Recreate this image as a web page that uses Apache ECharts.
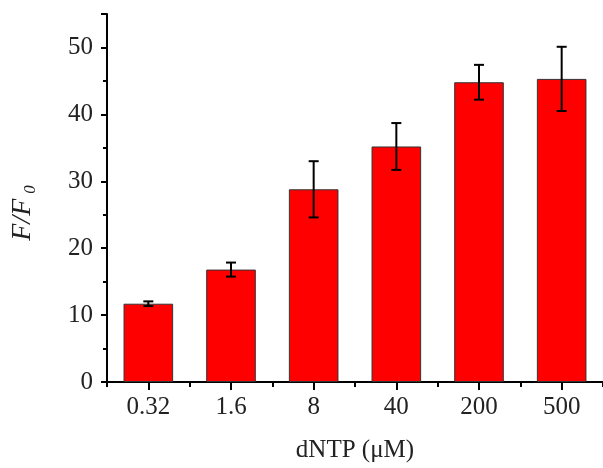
<!DOCTYPE html>
<html>
<head>
<meta charset="utf-8">
<script src="https://cdn.jsdelivr.net/npm/echarts@6/dist/echarts.min.js"></script>
<style>
  html, body { margin: 0; padding: 0; background: #fff; }
  #chart { width: 603px; height: 468px; }
</style>
</head>
<body>
<div id="chart"></div>
<script>
// dNTP concentrations (uM) and fluorescence ratio F/F0
const categories = ['0.32', '1.6', '8', '40', '200', '500']
const values = [11.7, 16.8, 28.8, 35.2, 44.8, 45.3]
const errors = [0.35, 1.05, 4.2, 3.5, 2.6, 4.8]

const serif = '"Liberation Serif", "Times New Roman", Times, serif'

const chart = echarts.init(document.getElementById('chart'))

const errData = values.map((v, i) => [i, v - errors[i], v + errors[i]])

const option = {
  animation: false,
  grid: {
    left: 107,
    right: -4,
    top: 14,
    bottom: 83
  },
  xAxis: [{
    type: 'category',
    data: categories,
    name: 'dNTP (μM)',
    nameLocation: 'middle',
    nameGap: 56,
    nameTextStyle: { fontFamily: serif, fontSize: 25, color: '#222' },
    axisLine: { lineStyle: { color: '#000', width: 2 } },
    axisTick: { show: true, alignWithLabel: true, length: 8, lineStyle: { color: '#000', width: 2 } },
    axisLabel: { fontFamily: serif, fontSize: 25, color: '#222', margin: 13 }
  }, {
    // boundary (minor) ticks between categories
    type: 'category',
    data: categories,
    position: 'bottom',
    offset: 0,
    axisLine: { show: false },
    axisTick: { show: true, inside: false, length: 5, lineStyle: { color: '#000', width: 2 } },
    axisLabel: { show: false }
  }],
  yAxis: {
    type: 'value',
    min: 0,
    max: 55,
    interval: 10,
    name: '{i|F/F}{s|0}',
    nameLocation: 'middle',
    nameGap: 68,
    nameTextStyle: {
      padding: [0, 30, 0, 0],
      rich: {
        i: { fontFamily: serif, fontStyle: 'italic', fontSize: 28, color: '#222' },
        s: { fontFamily: serif, fontStyle: 'italic', fontSize: 17, color: '#222', padding: [16, 0, 0, 5] }
      }
    },
    axisLine: { show: true, lineStyle: { color: '#000', width: 2 } },
    axisTick: { show: true, length: 6, lineStyle: { color: '#000', width: 2 } },
    minorTick: { show: true, splitNumber: 2, length: 4, lineStyle: { color: '#000', width: 2 } },
    splitLine: { show: false },
    axisLabel: { fontFamily: serif, fontSize: 25, color: '#222', margin: 14, showMaxLabel: false }
  },
  series: [{
    type: 'bar',
    data: values,
    barWidth: '60%',
    itemStyle: { color: '#ff0000', borderColor: '#333', borderWidth: 1 }
  }, {
    type: 'custom',
    data: errData,
    z: 10,
    renderItem: function (params, api) {
      const lo = api.coord([api.value(0), api.value(1)])
      const hi = api.coord([api.value(0), api.value(2)])
      const half = 5
      const style = { stroke: '#000', lineWidth: 2 }
      return {
        type: 'group',
        children: [
          { type: 'line', shape: { x1: hi[0], y1: hi[1], x2: lo[0], y2: lo[1] }, style: style },
          { type: 'line', shape: { x1: hi[0] - half, y1: hi[1], x2: hi[0] + half, y2: hi[1] }, style: style },
          { type: 'line', shape: { x1: lo[0] - half, y1: lo[1], x2: lo[0] + half, y2: lo[1] }, style: style }
        ]
      }
    }
  }]
}

chart.setOption(option)
</script>
</body>
</html>
